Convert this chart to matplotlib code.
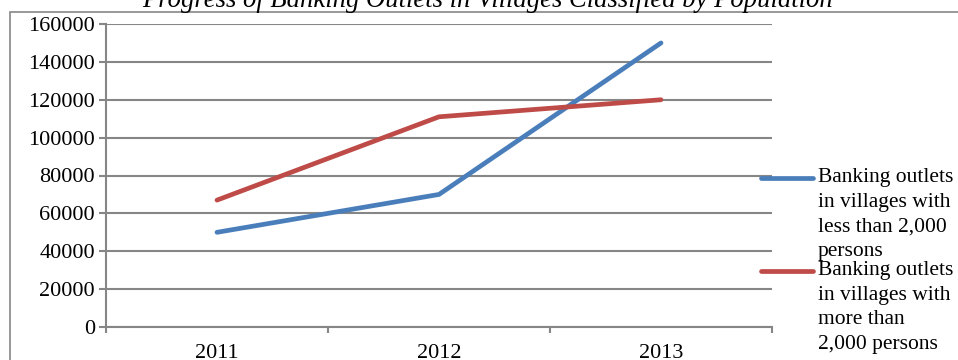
import matplotlib.pyplot as plt
from matplotlib.lines import Line2D
from matplotlib.patches import Rectangle

years = ['2011', '2012', '2013']
less_2000 = [50000, 70000, 150000]
more_2000 = [67000, 111000, 120000]
labels = ['Banking outlets\nin villages with\nless than 2,000\npersons',
          'Banking outlets\nin villages with\nmore than\n2,000 persons']
colors = ['#4A7EBB', '#BE4B48']

plt.rcParams['font.family'] = 'Liberation Serif'
grey = '#868686'

fig = plt.figure(figsize=(9.58, 3.6), dpi=100)
ax = fig.add_axes([106 / 958, 1 - 327 / 360, 666 / 958, 303 / 360])

x = range(len(years))
ax.plot(x, less_2000, color=colors[0], lw=3.4, solid_capstyle='round')
ax.plot(x, more_2000, color=colors[1], lw=3.4, solid_capstyle='round')

ax.set_xlim(-0.5, len(years) - 0.5)
ax.set_ylim(0, 160000)
ax.set_yticks(range(0, 160001, 20000))
ax.set_xticks(list(x))
ax.set_xticklabels(years)
ax.set_xticks([i - 0.5 for i in range(len(years) + 1)], minor=True)
ax.tick_params(axis='x', which='major', length=0, pad=12.5, labelsize=16)
ax.tick_params(axis='x', which='minor', length=4.5, color=grey, width=1.5, direction='out')
ax.tick_params(axis='y', length=5, color=grey, width=1.5, labelsize=16, pad=3)
ax.yaxis.grid(True, color=grey, lw=1.5)
ax.set_axisbelow(True)
for s in ['top', 'right']:
    ax.spines[s].set_visible(False)
for s in ['left', 'bottom']:
    ax.spines[s].set_color(grey)
    ax.spines[s].set_linewidth(1.5)

# outer chart border
fig.add_artist(Rectangle((10 / 958, -0.1), 1.1, 1 - 12 / 360 + 0.1, transform=fig.transFigure,
                         fill=False, ec=grey, lw=1.2, clip_on=False))

fig.text(488 / 958, 1 - 7 / 360, 'Progress of Banking Outlets in Villages Classified by Population',
         ha='center', va='baseline', fontsize=19.2, style='italic')

# legend
for i, (lab, c) in enumerate(zip(labels, colors)):
    y = 1 - (178 + i * 93) / 360
    fig.add_artist(Line2D([761 / 958, 813 / 958], [y, y], color=c, lw=3.4,
                          solid_capstyle='round', transform=fig.transFigure))
    fig.text(818 / 958, y + 10 / 360, lab, ha='left', va='top', fontsize=15.5,
             linespacing=1.4)

fig.savefig('out.png', dpi=100)
